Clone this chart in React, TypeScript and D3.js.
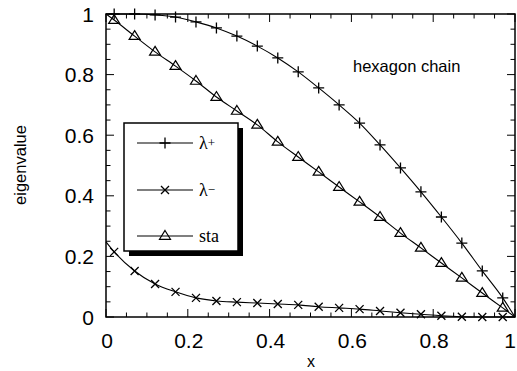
import React from 'react';
import * as d3 from 'd3';

// marker positions along x
const xMarks = [0.02, 0.07, 0.12, 0.17, 0.22, 0.27, 0.32, 0.37, 0.42, 0.47, 0.52, 0.57, 0.62, 0.67, 0.72, 0.77, 0.82, 0.87, 0.92, 0.97];

const lambdaPlus = [1.0, 1.0, 0.997, 0.99, 0.974, 0.954, 0.927, 0.894, 0.855, 0.809, 0.756, 0.700, 0.640, 0.568, 0.492, 0.413, 0.330, 0.244, 0.152, 0.063];
const lambdaMinus = [0.215, 0.152, 0.109, 0.083, 0.063, 0.053, 0.049, 0.046, 0.043, 0.040, 0.034, 0.030, 0.026, 0.020, 0.014, 0.009, 0.004, 0.001, 0.0, 0.0];
const sta = [0.98, 0.927, 0.875, 0.828, 0.779, 0.726, 0.680, 0.634, 0.578, 0.528, 0.479, 0.429, 0.380, 0.330, 0.277, 0.228, 0.178, 0.129, 0.079, 0.03];

// curve end points (x = 0 and x = 1)
const startValues = { plus: 1.0, minus: 0.248, sta: 1.0 };
const endValues = { plus: 0, minus: 0, sta: 0 };

const xTickLabels = ['0', '0.2', '0.4', '0.6', '0.8', '1'];
const yTickLabels = ['0', '0.2', '0.4', '0.6', '0.8', '1'];

const W = 517;
const H = 371;
const margin = { top: 14, right: 2, bottom: 54, left: 106 };

const sans = '"Liberation Sans", Arial, sans-serif';
const serif = '"Liberation Serif", "Times New Roman", serif';

const Marker = ({ kind, cx, cy }: { kind: string; cx: number; cy: number }) => {
    if (kind === 'plus') {
        const s = 5.5;
        return <path d={`M${cx - s},${cy}H${cx + s}M${cx},${cy - s}V${cy + s}`} stroke="#000" strokeWidth={1.3} fill="none" />;
    }
    if (kind === 'cross') {
        const s = 4;
        return <path d={`M${cx - s},${cy - s}L${cx + s},${cy + s}M${cx - s},${cy + s}L${cx + s},${cy - s}`} stroke="#000" strokeWidth={1.3} fill="none" />;
    }
    const r = 5.5;
    return <path d={`M${cx},${cy - r}L${cx + r},${cy + r * 0.6}L${cx - r},${cy + r * 0.6}Z`} stroke="#000" strokeWidth={1.2} fill="none" />;
};

export default function App() {
    const x = d3.scaleLinear().domain([0, 1]).range([margin.left, W - margin.right]);
    const y = d3.scaleLinear().domain([0, 1]).range([H - margin.bottom, margin.top]);

    const line = d3.line<[number, number]>()
        .x(d => x(d[0]))
        .y(d => y(d[1]))
        .curve(d3.curveMonotoneX);

    const build = (vals: number[], k: 'plus' | 'minus' | 'sta') =>
        [[0, startValues[k]], ...xMarks.map((xv, i) => [xv, vals[i]]), [1, endValues[k]]] as [number, number][];

    const series = [
        { key: 'plus', vals: lambdaPlus, marker: 'plus' },
        { key: 'minus', vals: lambdaMinus, marker: 'cross' },
        { key: 'sta', vals: sta, marker: 'tri' },
    ] as const;

    const minor = x.ticks(20);
    const major = x.ticks(5);
    const x0 = x(0), x1 = x(1), y0 = y(0), y1 = y(1);

    const legend = { x: 124, y: 123, w: 114, h: 128 };
    const legendRows = [
        { marker: 'plus', label: 'λ', sup: '+', cy: 143 },
        { marker: 'cross', label: 'λ', sup: '−', cy: 190 },
        { marker: 'tri', label: 'sta', sup: '', cy: 236 },
    ];

    return (
        <div style={{ position: 'absolute', left: 0, top: 0 }}>
            <svg width={W} height={H} style={{ display: 'block', background: '#fff' }}>
                {/* ticks on all sides, pointing inward */}
                <g stroke="#000" strokeWidth={1}>
                    {minor.map((t, i) => {
                        const isMajor = major.some(m => Math.abs(m - t) < 1e-9);
                        const len = isMajor ? 8 : 4.5;
                        return (
                            <g key={i}>
                                <line x1={x(t)} x2={x(t)} y1={y0} y2={y0 - len} />
                                <line x1={x(t)} x2={x(t)} y1={y1} y2={y1 + len} />
                                <line x1={x0} x2={x0 + len} y1={y(t)} y2={y(t)} />
                                <line x1={x1} x2={x1 - len} y1={y(t)} y2={y(t)} />
                            </g>
                        );
                    })}
                </g>
                <rect x={x0} y={y1} width={x1 - x0} height={y0 - y1} fill="none" stroke="#000" strokeWidth={1.5} />

                {/* tick labels */}
                <g fontFamily={sans} fontSize={21} fill="#000">
                    {major.map((t, i) => (
                        <text key={'x' + i} x={i === major.length - 1 ? x(t) - 5 : x(t) + 1} y={348} textAnchor="middle">{xTickLabels[i]}</text>
                    ))}
                    {major.map((t, i) => (
                        <text key={'y' + i} x={94} y={y(t)} dy="0.36em" textAnchor="end">{yTickLabels[i]}</text>
                    ))}
                </g>

                {/* axis titles */}
                <text x={311} y={367} fontFamily={sans} fontSize={16} textAnchor="middle">x</text>
                <text transform="translate(26,165) rotate(-90)" fontFamily={sans} fontSize={16.5} textAnchor="middle">eigenvalue</text>
                <text x={353} y={72} fontFamily={sans} fontSize={16.5}>hexagon chain</text>

                {/* curves */}
                {series.map(s => {
                    const pts = build(s.vals as unknown as number[], s.key);
                    return (
                        <g key={s.key}>
                            <path d={line(pts) || ''} fill="none" stroke="#000" strokeWidth={1.1} />
                            {xMarks.map((xv, i) => (
                                <Marker key={i} kind={s.marker} cx={x(xv)} cy={y(s.vals[i])} />
                            ))}
                        </g>
                    );
                })}

                {/* legend */}
                <rect x={legend.x + 5} y={legend.y + 5} width={legend.w} height={legend.h} fill="#000" />
                <rect x={legend.x} y={legend.y} width={legend.w} height={legend.h} fill="#fff" stroke="#000" strokeWidth={1.5} />
                {legendRows.map((r, i) => (
                    <g key={i}>
                        <line x1={137} x2={193} y1={r.cy} y2={r.cy} stroke="#000" strokeWidth={1.1} />
                        <Marker kind={r.marker} cx={165} cy={r.cy} />
                        <text x={199} y={r.cy} dy="0.35em" fontFamily={serif} fontSize={18}>
                            {r.label}
                            {r.sup && <tspan fontSize={13} dy={-2}>{r.sup}</tspan>}
                        </text>
                    </g>
                ))}
            </svg>
        </div>
    );
}
